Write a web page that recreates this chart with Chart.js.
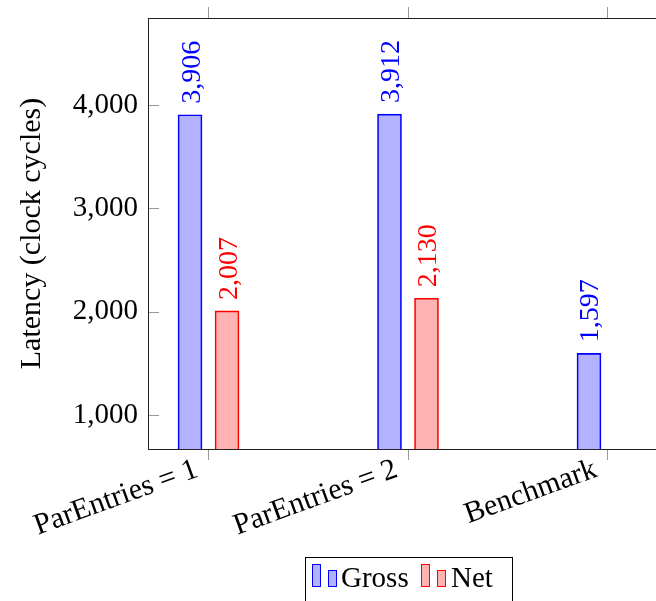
<!DOCTYPE html>
<html>
<head>
<meta charset="utf-8">
<script src="https://cdn.jsdelivr.net/npm/chart.js@4/dist/chart.umd.min.js"></script>
<style>
  html, body { margin: 0; padding: 0; background: #fff; overflow: hidden; }
  #wrap { width: 680px; height: 601px; position: relative; }
</style>
</head>
<body>
<div id="wrap"><canvas id="chart"></canvas></div>
<script>
// Latency per configuration
const categories = ['ParEntries = 1', 'ParEntries = 2', 'Benchmark'];
const grossValues = [3906, 3912, 1597];
const netValues = [2007, 2130];
const yTickValues = [1000, 2000, 3000, 4000];
const seriesNames = ['Gross', 'Net'];

const FONT = '"Liberation Serif", "Times New Roman", serif';
const BLUE = '#0000ff', BLUE_FILL = 'rgba(0,0,255,0.3)';
const RED = '#ff0000', RED_FILL = 'rgba(255,0,0,0.3)';
const fmt = v => Number(v).toLocaleString('en-US');

const catTicks = scale => { scale.ticks = categories.map((_, i) => ({ value: i })); };

// frame around the plot area plus inward y tick marks on both sides
const framePlugin = {
  id: 'frame',
  afterDraw(chart) {
    const { ctx, chartArea: a, scales } = chart;
    ctx.save();
    ctx.strokeStyle = '#999';
    ctx.lineWidth = 1;
    yTickValues.forEach(v => {
      const y = Math.round(scales.y.getPixelForValue(v)) + 0.5;
      ctx.beginPath();
      ctx.moveTo(a.left, y); ctx.lineTo(a.left + 11, y);
      ctx.moveTo(a.right - 11, y); ctx.lineTo(a.right, y);
      ctx.stroke();
    });
    ctx.strokeStyle = '#222';
    ctx.strokeRect(Math.round(a.left) + 0.5, Math.round(a.top) + 0.5,
                   Math.round(a.right - a.left), Math.round(a.bottom - a.top));
    ctx.restore();
  }
};

// slanted category labels, right end just left of each tick
const categoryLabelPlugin = {
  id: 'categoryLabels',
  afterDraw(chart) {
    const { ctx, scales, chartArea: a } = chart;
    ctx.save();
    ctx.font = '30px ' + FONT;
    ctx.fillStyle = '#000';
    ctx.textAlign = 'right';
    ctx.textBaseline = 'alphabetic';
    categories.forEach((name, i) => {
      const x = scales.x.getPixelForValue(i);
      ctx.save();
      ctx.translate(x - 9, a.bottom + 27);
      ctx.rotate(-20 * Math.PI / 180);
      ctx.fillText(name, 0, 0);
      ctx.restore();
    });
    ctx.restore();
  }
};

// rotated value labels above each bar
const valueLabelPlugin = {
  id: 'valueLabels',
  afterDatasetsDraw(chart) {
    const { ctx } = chart;
    ctx.save();
    ctx.font = '28px ' + FONT;
    chart.data.datasets.forEach((ds, di) => {
      const meta = chart.getDatasetMeta(di);
      meta.data.forEach((bar, i) => {
        const v = ds.data[i].y;
        ctx.save();
        ctx.translate(bar.x + 9.5, bar.y - 11);
        ctx.rotate(-Math.PI / 2);
        ctx.fillStyle = ds.borderColor;
        ctx.textAlign = 'left';
        ctx.textBaseline = 'alphabetic';
        ctx.fillText(fmt(v), 0, 0);
        ctx.restore();
      });
    });
    ctx.restore();
  }
};

// boxed legend with paired bar glyphs
const legendPlugin = {
  id: 'barLegend',
  afterDraw(chart) {
    const { ctx } = chart;
    ctx.save();
    ctx.strokeStyle = '#000';
    ctx.lineWidth = 1;
    ctx.strokeRect(305.5, 557.5, 207, 46);
    const entries = [
      { x: 312, name: seriesNames[0], ds: chart.data.datasets[0], tx: 341 },
      { x: 421, name: seriesNames[1], ds: chart.data.datasets[1], tx: 451 }
    ];
    ctx.font = '29px ' + FONT;
    ctx.textBaseline = 'alphabetic';
    entries.forEach(e => {
      [[e.x, 564, 8, 22], [e.x + 16, 570, 8, 16]].forEach(([x, y, w, h]) => {
        ctx.fillStyle = e.ds.backgroundColor;
        ctx.fillRect(x, y, w, h);
        ctx.strokeStyle = e.ds.borderColor;
        ctx.strokeRect(x + 0.5, y + 0.5, w, h);
      });
      ctx.fillStyle = '#000';
      ctx.fillText(e.name, e.tx, 587);
    });
    ctx.restore();
  }
};

const noPad = s => { s.paddingTop = 0; s.paddingBottom = 0; s.paddingLeft = 0; s.paddingRight = 0; };

new Chart(document.getElementById('chart'), {
  type: 'bar',
  data: {
    datasets: [
      {
        label: seriesNames[0],
        data: grossValues.map((v, i) => ({ x: i, y: v })),
        backgroundColor: BLUE_FILL,
        borderColor: BLUE,
        borderWidth: 1,
        borderSkipped: false
      },
      {
        label: seriesNames[1],
        data: netValues.map((v, i) => ({ x: i, y: v })),
        backgroundColor: RED_FILL,
        borderColor: RED,
        borderWidth: 1,
        borderSkipped: false
      }
    ]
  },
  options: {
    responsive: true,
    maintainAspectRatio: false,
    devicePixelRatio: 1,
    animation: false,
    layout: { padding: { left: 0, right: 12, top: 0, bottom: 0 } },
    datasets: { bar: { barThickness: 37, maxBarThickness: 24, grouped: true } },
    plugins: { legend: { display: false }, tooltip: { enabled: false } },
    scales: {
      x: {
        type: 'linear',
        position: 'bottom',
        offset: false,
        min: -0.3033,
        max: 2.3033,
        afterBuildTicks: catTicks,
        afterFit: s => { s.height = 152; noPad(s); },
        ticks: { display: false },
        grid: { offset: false, drawOnChartArea: false, drawTicks: true, tickLength: 11, color: '#999' },
        border: { display: false }
      },
      x2: {
        type: 'linear',
        position: 'top',
        offset: false,
        min: -0.3033,
        max: 2.3033,
        afterBuildTicks: catTicks,
        afterFit: s => { s.height = 18; noPad(s); },
        ticks: { display: false },
        grid: { offset: false, drawOnChartArea: false, drawTicks: true, tickLength: 11, color: '#999' },
        border: { display: false }
      },
      y: {
        type: 'linear',
        min: 671,
        max: 4842,
        afterBuildTicks: s => { s.ticks = yTickValues.map(v => ({ value: v })); },
        afterFit: s => { s.width = 148; noPad(s); },
        ticks: {
          padding: 10,
          color: '#000',
          font: { family: FONT, size: 29 },
          callback: v => fmt(v)
        },
        grid: { drawOnChartArea: false, drawTicks: false },
        border: { display: false },
        title: {
          display: true,
          text: 'Latency (clock cycles)',
          color: '#000',
          font: { family: FONT, size: 30, lineHeight: 1.2 },
          padding: { top: 14, bottom: 0 }
        }
      }
    }
  },
  plugins: [framePlugin, categoryLabelPlugin, valueLabelPlugin, legendPlugin]
});
</script>
</body>
</html>
